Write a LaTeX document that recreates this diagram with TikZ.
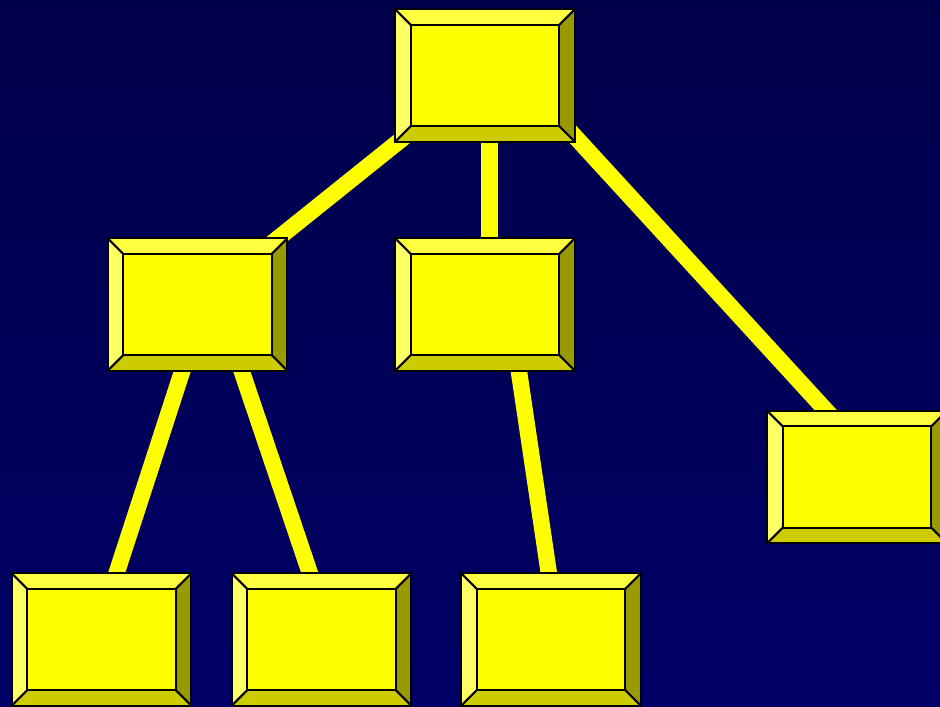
\documentclass[tikz,border=0pt]{standalone}
\usepackage{tikz}
\usetikzlibrary{calc,positioning}
\definecolor{bgnavy}{RGB}{0,0,102}
\definecolor{bgnavytop}{RGB}{0,0,74}
\definecolor{bxyellow}{RGB}{255,255,0}
\definecolor{bxtop}{RGB}{255,255,64}
\definecolor{bxleft}{RGB}{255,255,102}
\definecolor{bxbottom}{RGB}{204,204,0}
\definecolor{bxright}{RGB}{153,153,0}
\tikzstyle{box} = [rectangle, minimum width=4.48cm, minimum height=3.3cm, inner sep=0pt, outer sep=0pt]
\tikzstyle{link} = [line width=0.41cm, color=bxyellow]
\tikzstyle{edge} = [line width=0.05cm, color=black]

\begin{document}
\begin{tikzpicture}[x=0.025cm, y=-0.025cm]
    % background
    \shade[top color=bgnavytop, middle color=bgnavy, bottom color=bgnavy] (0,0) rectangle (940,707);
    \useasboundingbox (0,0) rectangle (940,707);

    \node[box] (root) at (485,75.5) {};
    \node[box] (l1) at (197.5,304.5) {};
    \node[box] (m1) at (485,304.5) {};
    \node[box] (r1) at (857,477) {};
    \node[box] (b1) at (101.5,639.5) {};
    \node[box] (b2) at (321.5,639.5) {};
    \node[box] (b3) at (551,639.5) {};

    % links (the boxes are painted over their ends)
    \draw[link] ($(root.center)+(-4,0)$) -- ($(l1.center)+(-2,0)$);
    \draw[link] ($(root.center)+(4.5,0)$) -- ($(m1.center)+(4.5,0)$);
    \draw[link] ($(root.center)+(34,0)$) -- ($(r1.center)+(30,0)$);
    \draw[link] ($(l1.center)+(6.4,0)$) -- ($(b1.center)+(-6.5,0)$);
    \draw[link] ($(l1.center)+(21.7,0)$) -- ($(b2.center)+(10.8,0)$);
    \draw[link] ($(m1.center)+(24,0)$) -- ($(b3.center)+(7.7,0)$);

    % bevelled faces
    \foreach \n in {root,l1,m1,r1,b1,b2,b3} {
        \coordinate (\n-inw) at ($(\n.north west)+(15.5,15.5)$);
        \coordinate (\n-ine) at ($(\n.north east)+(-15.5,15.5)$);
        \coordinate (\n-isw) at ($(\n.south west)+(15.5,-15.5)$);
        \coordinate (\n-ise) at ($(\n.south east)+(-15.5,-15.5)$);
        \fill[bxtop] (\n.north west) -- (\n.north east) -- (\n-ine) -- (\n-inw) -- cycle;
        \fill[bxleft] (\n.north west) -- (\n-inw) -- (\n-isw) -- (\n.south west) -- cycle;
        \fill[bxbottom] (\n.south west) -- (\n-isw) -- (\n-ise) -- (\n.south east) -- cycle;
        \fill[bxright] (\n.north east) -- (\n.south east) -- (\n-ise) -- (\n-ine) -- cycle;
        \fill[bxyellow] (\n-inw) rectangle (\n-ise);
        \draw[edge] (\n.north west) rectangle (\n.south east);
        \draw[edge] (\n-inw) rectangle (\n-ise);
        \draw[edge] (\n.north west) -- (\n-inw) (\n.north east) -- (\n-ine)
            (\n.south west) -- (\n-isw) (\n.south east) -- (\n-ise);
    }
\end{tikzpicture}
\end{document}
